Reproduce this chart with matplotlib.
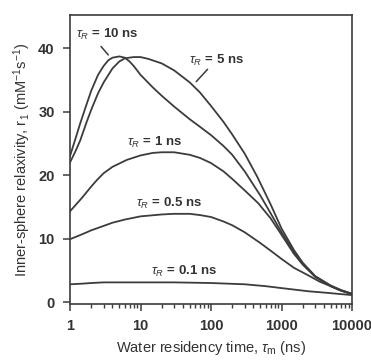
import matplotlib
matplotlib.use("Agg")
import matplotlib.pyplot as plt

plt.rcParams['font.family'] = ['Liberation Sans', 'DejaVu Sans']
plt.rcParams['mathtext.fontset'] = 'custom'
plt.rcParams['mathtext.rm'] = 'Liberation Sans'
plt.rcParams['mathtext.it'] = 'Liberation Sans:italic'
plt.rcParams['mathtext.bf'] = 'Liberation Sans:bold'

# tau_m (ns) and inner-sphere relaxivity r1 for each tau_R curve
tau_10 = [1, 1.2, 1.4, 1.7, 2, 2.5, 3, 3.5, 4, 5, 6, 7, 8, 10, 15, 20, 30, 50, 70, 100,
          150, 200, 300, 500, 700, 1000, 1500, 2000, 3000, 5000, 7000, 10000]
r1_10 = [23.0, 25.8, 28.2, 31.0, 33.3, 35.8, 37.2, 38.1, 38.5, 38.7, 38.5, 37.9, 37.2, 35.8,
         33.8, 32.5, 30.8, 28.8, 27.6, 26.3, 24.6, 23.2, 20.6, 16.8, 14.0, 11.0, 7.9, 6.0,
         4.0, 2.5, 1.8, 1.3]

tau_5 = [1, 1.2, 1.4, 1.7, 2, 2.5, 3, 4, 5, 6, 8, 10, 13, 20, 30, 50, 70, 100, 150, 200,
         300, 450, 700, 1000, 1500, 2000, 3000, 5000, 7000, 10000]
r1_5 = [22.0, 23.8, 25.5, 28.2, 30.3, 32.9, 34.6, 36.8, 37.9, 38.4, 38.6, 38.6, 38.3, 37.6,
        36.5, 34.6, 33.0, 30.9, 28.4, 26.4, 23.4, 19.8, 15.4, 11.6, 8.2, 6.2, 4.1, 2.6,
        1.9, 1.3]

tau_1 = [1, 1.5, 2, 2.4, 3, 4, 6.4, 10, 15, 20, 30, 50, 70, 100, 150, 200, 300, 465, 700,
         1000, 1500, 2000, 3000, 5000, 7000, 10000]
r1_1 = [14.3, 16.5, 18.2, 19.2, 20.3, 21.3, 22.4, 23.1, 23.5, 23.6, 23.6, 23.2, 22.7, 21.9,
        20.6, 19.4, 17.6, 15.6, 13.2, 10.6, 7.6, 5.9, 4.0, 2.5, 1.8, 1.3]

tau_05 = [1, 1.5, 2, 3, 4, 6, 10, 20, 30, 50, 70, 100, 150, 200, 300, 500, 700, 1000, 1500,
          2400, 3500, 5000, 7000, 10000]
r1_05 = [9.9, 10.7, 11.3, 12.0, 12.5, 13.0, 13.5, 13.8, 13.9, 13.9, 13.7, 13.4, 12.7, 12.1,
         11.0, 9.3, 8.1, 6.8, 5.4, 4.2, 3.2, 2.5, 1.8, 1.2]

tau_01 = [1, 1.5, 2, 3, 5, 30, 100, 300, 600, 1000, 1700, 2400, 3500, 5000, 7000, 10000]
r1_01 = [2.8, 2.9, 3.0, 3.1, 3.1, 3.1, 3.0, 2.8, 2.5, 2.2, 1.9, 1.7, 1.55, 1.4, 1.25, 1.1]

xticks = [1, 10, 100, 1000, 10000]
xticklabels = ['1', '10', '100', '1000', '10000']
yticks = [0, 10, 20, 30, 40]

lc = '#3c3c3c'
fig = plt.figure(figsize=(3.71, 3.61), dpi=100)
ax = fig.add_axes([0.1887, 0.158, 0.7601, 0.800])

for t, r in [(tau_10, r1_10), (tau_5, r1_5), (tau_1, r1_1), (tau_05, r1_05), (tau_01, r1_01)]:
    ax.plot(t, r, color=lc, lw=1.3, solid_joinstyle='round')

ax.set_xscale('log')
ax.set_xlim(1, 10000)
ax.set_ylim(-0.3, 45.2)
ax.set_xticks(xticks)
ax.set_xticklabels(xticklabels)
ax.set_yticks(yticks)
for s in ax.spines.values():
    s.set_color(lc)
    s.set_linewidth(1.2)
ax.tick_params(which='major', direction='out', length=5, width=1.1, color=lc,
               labelsize=10.5, pad=6)
ax.tick_params(which='minor', direction='out', length=3, width=1.0, color=lc)
for lab in ax.get_xticklabels() + ax.get_yticklabels():
    lab.set_fontweight('bold')
    lab.set_color('#333333')

ax.set_xlabel(r'Water residency time, $\tau_\mathrm{m}$ (ns)', fontsize=10.5, color='#333333', labelpad=4)
ax.set_ylabel(r'Inner-sphere relaxivity, r$_1$ (mM$^{-1}$s$^{-1}$)', fontsize=10.5, color='#333333', labelpad=4)

kw = dict(fontsize=9.5, fontweight='bold', color='#333333', va='center', ha='left')
ax.text(1.2, 42.2, r'$\tau_R$ = 10 ns', **kw)
ax.annotate('', xy=(3.7, 38.6), xytext=(2.6, 40.6),
            arrowprops=dict(arrowstyle='-', color=lc, lw=1.1))
ax.text(48, 38.0, r'$\tau_R$ = 5 ns', **kw)
ax.annotate('', xy=(58, 34.4), xytext=(95, 37.0),
            arrowprops=dict(arrowstyle='-', color=lc, lw=1.1))
ax.text(6.4, 25.2, r'$\tau_R$ = 1 ns', **kw)
ax.text(8.7, 15.6, r'$\tau_R$ = 0.5 ns', **kw)
ax.text(14, 4.9, r'$\tau_R$ = 0.1 ns', **kw)

fig.savefig('out.png', dpi=100)
